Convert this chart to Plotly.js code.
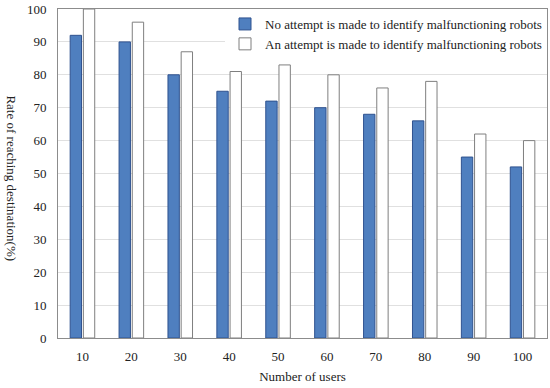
<!DOCTYPE html>
<html>
<head>
<meta charset="utf-8">
<script src="https://cdn.plot.ly/plotly-3.0.1.min.js"></script>
<style>html,body{margin:0;padding:0;background:#fff;}#chart{width:550px;height:388px;}</style>
</head>
<body>
<div id="chart"></div>
<script>
var categories = ['10','20','30','40','50','60','70','80','90','100'];
var noAttempt = [92, 90, 80, 75, 72, 70, 68, 66, 55, 52];
var withAttempt = [100, 96, 87, 81, 83, 80, 76, 78, 62, 60];
var seriesNames = ['No attempt is made to identify malfunctioning robots', 'An attempt is made to identify malfunctioning robots'];
var yTicks = [0,10,20,30,40,50,60,70,80,90,100];
var xTitle = 'Number of users';
var yTitle = 'Rate of reaching destination(%)';

var font = 'Palatino Linotype, Book Antiqua, Liberation Serif, DejaVu Serif, serif';

var traces = [
  {type:'bar', x:categories, y:noAttempt, name:seriesNames[0],
   marker:{color:'#4f7fbf', line:{color:'#2f528f', width:1}}},
  {type:'bar', x:categories, y:withAttempt, name:seriesNames[1],
   marker:{color:'#ffffff', line:{color:'#7f7f7f', width:1}}}
];

var layout = {
  width:550, height:388,
  margin:{l:58, r:3, t:9, b:50},
  paper_bgcolor:'#fff', plot_bgcolor:'#fff',
  font:{family:font, size:13, color:'#222'},
  barmode:'group', bargap:0.46, bargroupgap:0.14,
  showlegend:true,
  legend:{x:1, xanchor:'right', y:1, yanchor:'top', bgcolor:'#fff',
          font:{family:font, size:13, color:'#222'}, itemwidth:30,
          tracegroupgap:0, traceorder:'normal'},
  xaxis:{type:'category', showgrid:false, showline:true, linecolor:'#8c8c8c', linewidth:1,
         mirror:true, ticks:'', ticklabelstandoff:6, tickfont:{family:font, size:13, color:'#222'},
         title:{text:xTitle, font:{family:font, size:13, color:'#222'}, standoff:9}},
  yaxis:{range:[0,100], tickvals:yTicks, ticktext:yTicks.map(String), showgrid:true, gridcolor:'#e0e0e0',
         showline:true, linecolor:'#8c8c8c', linewidth:1, mirror:true, ticks:'', zeroline:false,
         ticklabelstandoff:8, tickfont:{family:font, size:13, color:'#222'}},
  annotations:[{text:yTitle, textangle:90, xref:'paper', yref:'paper', x:-0.094, y:0.485,
                xanchor:'center', yanchor:'middle', showarrow:false,
                font:{family:font, size:13, color:'#222'}}]
};

Plotly.newPlot('chart', traces, layout, {displayModeBar:false, staticPlot:true});
</script>
</body>
</html>
